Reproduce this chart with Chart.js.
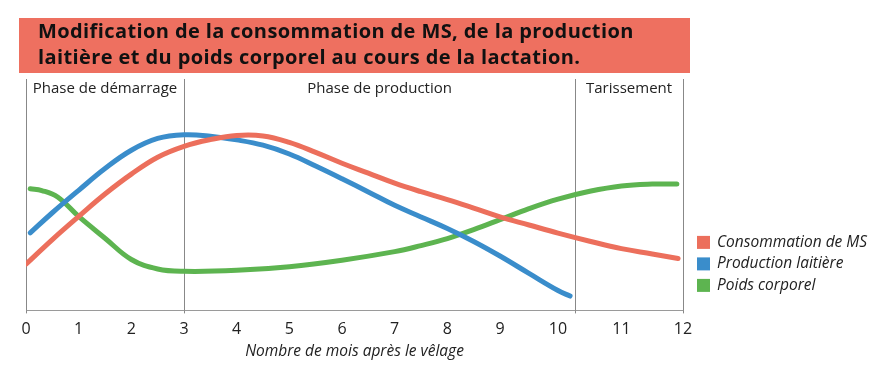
<!DOCTYPE html>
<html lang="fr">
<head>
<meta charset="UTF-8">
<title>Lactation</title>
<script src="https://cdn.jsdelivr.net/npm/chart.js@4.4.0/dist/chart.umd.min.js"></script>
<style>
  html, body { margin: 0; padding: 0; background: #fff; }
  #wrap { position: relative; width: 880px; height: 368px; }
  #titre {
    position: absolute; left: 19px; top: 18px; width: 652px; height: 55px;
    padding-left: 19px; background: #ee7060; color: #111;
    font: 700 20px "Open Sans", sans-serif; line-height: 26px; letter-spacing: 0.4px; z-index: 2;
  }
  canvas { position: absolute; left: 0; top: 0; }
</style>
</head>
<body>
<div id="wrap">
  <div id="titre">Modification de la consommation de MS, de la production<br>laitière et du poids corporel au cours de la lactation.</div>
  <canvas id="chart" width="880" height="368"></canvas>
</div>
<script>
// x ticks (months after calving)
const monthTicks = [0, 1, 2, 3, 4, 5, 6, 7, 8, 9, 10, 11, 12];
// phases
const phaseNames = ['Phase de démarrage', 'Phase de production', 'Tarissement'];
const phaseBounds = [0, 3, 10.27, 12];

// Consommation de MS
const consoMonths = [0, 0.5, 1, 1.5, 2, 2.5, 3, 3.5, 4, 4.5, 5, 5.5, 6, 6.5, 7, 7.5, 8, 8.5, 9, 9.5, 10, 10.5, 11, 11.5, 11.92];
const consoValues = [20, 30.6, 40.6, 50.3, 58.9, 66.2, 70.9, 73.8, 75.6, 75.4, 72.6, 68.3, 63.6, 59.3, 55.0, 51.3, 47.9, 44.2, 40.4, 36.9, 33.4, 29.9, 26.7, 24.4, 22.4];
// Production laitière
const laitMonths = [0.08, 0.5, 1, 1.5, 2, 2.5, 3, 3.5, 4, 4.5, 5, 5.5, 6, 6.5, 7, 7.5, 8, 8.5, 9, 9.5, 10, 10.19];
const laitValues = [33.5, 42.2, 51.9, 61.3, 69.2, 74.3, 75.9, 75.3, 73.7, 71.4, 67.6, 62.4, 56.9, 51.2, 45.4, 40.4, 35.4, 29.8, 23.5, 16.0, 8.6, 6.2];
// Poids corporel
const poidsMonths = [0.08, 0.3, 0.6, 1, 1.5, 2, 2.5, 3, 4, 5, 6, 7, 7.5, 8, 8.5, 9, 9.5, 10, 10.5, 11, 11.5, 11.9];
const poidsValues = [52.6, 51.8, 49.0, 40.6, 31.2, 22.0, 17.9, 16.9, 17.3, 18.9, 21.7, 25.4, 28.0, 31.0, 34.9, 39.2, 44.0, 48.1, 51.5, 53.8, 54.6, 54.6];

const seriesNames = ['Consommation de MS', 'Production laitière', 'Poids corporel'];
const seriesColors = ['#ec6f5c', '#3a8dcb', '#5db450'];

// the drawing stretches the last months: piecewise month -> axis fraction
const knotMonths = [0, 9, 10, 11, 12];
const knotFracs = [0, 474 / 657, 532 / 657, 595.5 / 657, 1];
function interp(v, xs, ys) {
  if (v <= xs[0]) return ys[0] + (v - xs[0]) * (ys[1] - ys[0]) / (xs[1] - xs[0]);
  for (let i = 1; i < xs.length; i++) {
    if (v <= xs[i] || i === xs.length - 1) {
      return ys[i - 1] + (v - xs[i - 1]) * (ys[i] - ys[i - 1]) / (xs[i] - xs[i - 1]);
    }
  }
}
class PhaseScale extends Chart.LinearScale {
  getPixelForValue(value) {
    if (value === null || value === undefined || isNaN(value)) return NaN;
    return this.getPixelForDecimal(interp(value, knotMonths, knotFracs));
  }
  getValueForPixel(pixel) {
    return interp(this.getDecimalForPixel(pixel), knotFracs, knotMonths);
  }
}
PhaseScale.id = 'phase';
PhaseScale.defaults = Chart.LinearScale.defaults;
Chart.register(PhaseScale);

function pts(xs, ys) { return xs.map((x, i) => ({ x: x, y: ys[i] })); }

const decor = {
  id: 'decor',
  afterDraw(chart) {
    const ctx = chart.ctx, area = chart.chartArea, x = chart.scales.x;
    ctx.save();
    // little marks of the phase lines under the axis
    ctx.strokeStyle = '#888';
    ctx.lineWidth = 1;
    phaseBounds.forEach(b => {
      const px = Math.round(x.getPixelForValue(b)) + 0.5;
      ctx.beginPath();
      ctx.moveTo(px, area.bottom);
      ctx.lineTo(px, area.bottom + 3);
      ctx.stroke();
    });
    // phase names
    ctx.fillStyle = '#222';
    ctx.font = '15px "Open Sans", sans-serif';
    ctx.textAlign = 'center';
    ctx.textBaseline = 'middle';
    for (let i = 0; i < phaseNames.length; i++) {
      const cx = (x.getPixelForValue(phaseBounds[i]) + x.getPixelForValue(phaseBounds[i + 1])) / 2;
      ctx.fillText(phaseNames[i], cx, area.top + 10);
    }
    // legend
    ctx.textAlign = 'left';
    ctx.font = 'italic 15.5px "Open Sans", sans-serif';
    const lx = area.right + 14;
    let ly = area.bottom - 68;
    chart.data.datasets.forEach(ds => {
      ctx.fillStyle = ds.borderColor;
      ctx.fillRect(lx, ly - 6.5, 13, 13);
      ctx.fillStyle = '#222';
      ctx.fillText(ds.label, lx + 20, ly);
      ly += 21.5;
    });
    ctx.restore();
  }
};

const lineStyle = { borderWidth: 5, pointRadius: 0, borderCapStyle: 'round', borderJoinStyle: 'round', tension: 0.4, fill: false };

new Chart(document.getElementById('chart'), {
  type: 'line',
  data: {
    datasets: [
      Object.assign({ label: seriesNames[0], data: pts(consoMonths, consoValues), borderColor: seriesColors[0] }, lineStyle),
      Object.assign({ label: seriesNames[1], data: pts(laitMonths, laitValues), borderColor: seriesColors[1] }, lineStyle),
      Object.assign({ label: seriesNames[2], data: pts(poidsMonths, poidsValues), borderColor: seriesColors[2] }, lineStyle)
    ]
  },
  options: {
    responsive: false,
    animation: false,
    layout: { padding: { left: 26, right: 197, top: 79, bottom: 4 } },
    plugins: { legend: { display: false }, tooltip: { enabled: false } },
    scales: {
      x: {
        type: 'phase', min: 0, max: 12,
        afterBuildTicks: s => { s.ticks = monthTicks.map(v => ({ value: v })); },
        grid: { display: false, drawTicks: false },
        border: { display: true, color: '#9a9a9a', width: 1 },
        ticks: { padding: 9.4, color: '#222', maxRotation: 0, autoSkip: false, font: { family: 'Open Sans', size: 16 } },
        title: { display: true, text: 'Nombre de mois après le vêlage', color: '#222', padding: { top: -6, bottom: 3 }, font: { family: 'Open Sans', size: 15.5, style: 'italic' } }
      },
      phases: {
        type: 'phase', position: 'top', min: 0, max: 12,
        afterBuildTicks: s => { s.ticks = phaseBounds.map(v => ({ value: v })); },
        grid: { display: true, drawTicks: false, color: '#888', lineWidth: 1 },
        border: { display: false },
        ticks: { display: false }
      },
      y: { display: false, min: 0, max: 100 }
    }
  },
  plugins: [decor]
});
</script>
</body>
</html>
